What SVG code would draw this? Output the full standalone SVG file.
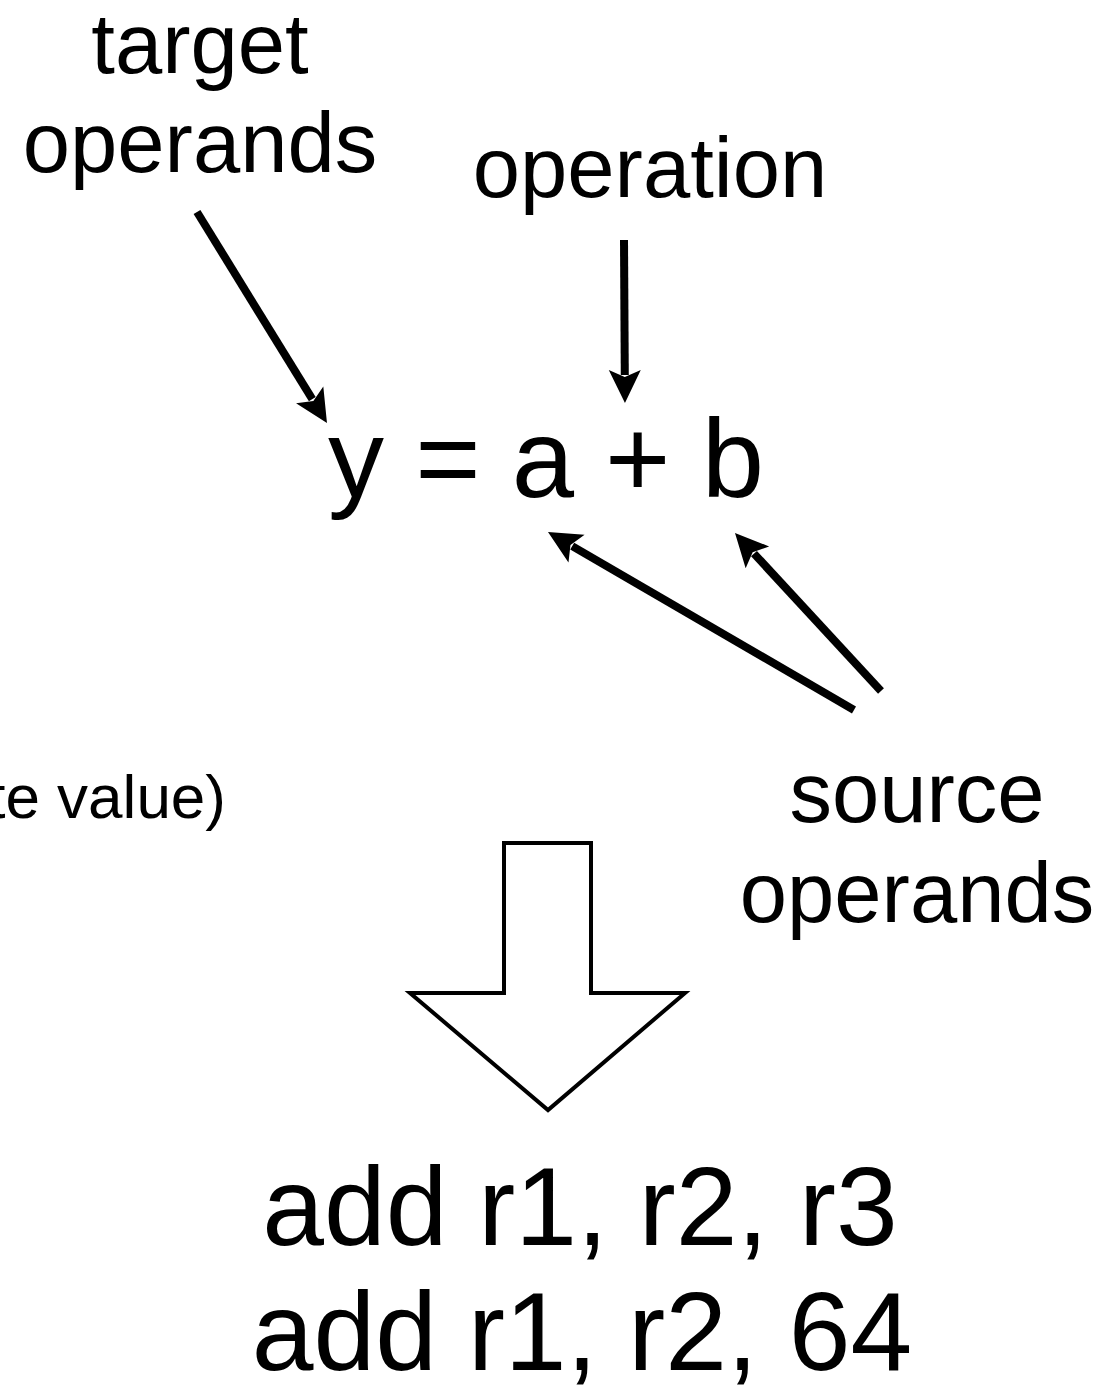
<svg xmlns="http://www.w3.org/2000/svg" width="1116" height="1392" viewBox="0 0 1116 1392">
<style>
text{font-family:"Liberation Sans",Arial,Helvetica,sans-serif;fill:#000}
.lbl{font-size:85px;text-anchor:middle}
.eq{font-size:112px;text-anchor:middle}
.code{font-size:111px;text-anchor:middle}
.conn{stroke:#000;stroke-width:8;fill:none;marker-end:url(#ah)}
</style>
<defs>
<marker id="ah" markerUnits="userSpaceOnUse" viewBox="-10 -20 40 40" markerWidth="40" markerHeight="40" refX="0" refY="0" orient="auto" overflow="visible">
<path d="M28,0 L-5,-16 L2,0 L-5,16 Z" fill="#000"/>
</marker>
</defs>
<rect width="1116" height="1392" fill="#fff"/>
<g id="target-operands"><text class="lbl" x="200" y="73">target</text><text class="lbl" x="200" y="172">operands</text></g>
<g id="operation"><text class="lbl" x="650" y="197">operation</text></g>
<g id="equation"><text class="eq" x="546" y="497">y = a + b</text></g>
<g id="source-operands"><text class="lbl" x="917" y="822">source</text><text class="lbl" x="917" y="922">operands</text></g>
<g id="immediate"><text x="226" y="818" font-size="62" text-anchor="end">te value)</text></g>
<g id="block-arrow"><polygon points="504,843 591,843 591,993 685,993 548,1110 410,993 504,993" fill="#fff" stroke="#000" stroke-width="4" stroke-linejoin="miter"/></g>
<g id="code"><text class="code" x="580" y="1245">add r1, r2, r3</text><text class="code" x="582" y="1370">add r1, r2, 64</text></g>
<g id="connectors">
<line class="conn" x1="197" y1="212" x2="312.3" y2="399.2"/>
<line class="conn" x1="624" y1="240" x2="624.8" y2="375"/>
<line class="conn" x1="854" y1="710" x2="572.2" y2="546.1"/>
<line class="conn" x1="881" y1="691" x2="754" y2="553.6"/>
</g>
</svg>
